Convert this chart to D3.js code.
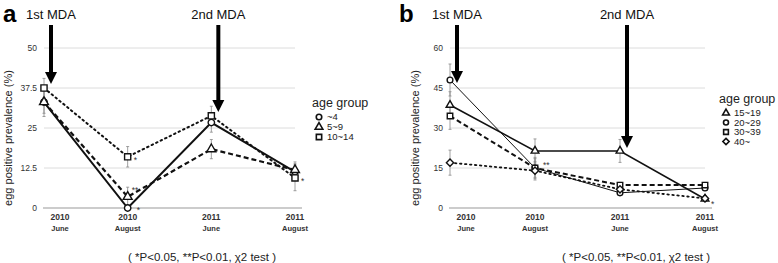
<!DOCTYPE html>
<html>
<head>
<meta charset="utf-8">
<script src="https://cdn.jsdelivr.net/npm/d3@7"></script>
<style>
  body { margin: 0; background: #fff; }
  text { font-family: "Liberation Sans", Arial, sans-serif; }
</style>
</head>
<body>
<div id="chart"></div>
<script>
// x categories
const tickYears = ["2010", "2010", "2011", "2011"];
const tickMonths = ["June", "August", "June", "August"];

// panel a
const groupsA = ["~4", "5~9", "10~14"];
const a_le4 = [33.1, 0, 26.7, 11.3];
const a_5to9 = [33.1, 3.5, 18.4, 11.9];
const a_10to14 = [37.5, 16, 28.8, 9.4];
const errA_le4 = [4.5, 0.5, 3, 2.5];
const errA_5to9 = [3.5, 3, 3, 2.5];
const errA_10to14 = [3, 3.2, 3, 4];
const yTicksA = [0, 12.5, 25, 37.5, 50];
const sigA = [
  { group: 2, at: 1, label: "*" },
  { group: 1, at: 1, label: "**" },
  { group: 0, at: 1, label: "*" },
  { group: 2, at: 3, label: "*" }
];

// panel b
const groupsB = ["15~19", "20~29", "30~39", "40~"];
const b_15to19 = [38.6, 21.4, 21.4, 3.4];
const b_20to29 = [48, 15, 5.7, 7.5];
const b_30to39 = [34.5, 15, 8.6, 8.6];
const b_40plus = [17, 14, 7, 3.6];
const errB_15to19 = [5, 4.5, 4.3, 1];
const errB_20to29 = [6, 4, 1, 1];
const errB_30to39 = [5, 3.5, 1, 1];
const errB_40plus = [4.7, 3.5, 1, 0.8];
const yTicksB = [0, 15, 30, 45, 60];
const sigB = [
  { group: 1, at: 1, label: "**" },
  { group: 0, at: 3, label: "*" }
];

const mdaLabels = ["1st MDA", "2nd MDA"];

const W = 778, H = 263;
const svg = d3.select("#chart").append("svg")
  .attr("width", W).attr("height", H);

const symDiamond = {
  draw(ctx, size) {
    const r = Math.sqrt(size) * 0.62;
    ctx.moveTo(0, -r); ctx.lineTo(r, 0); ctx.lineTo(0, r); ctx.lineTo(-r, 0); ctx.closePath();
  }
};

function drawPanel(cfg) {
  const g = svg.append("g");
  const x = d3.scalePoint().domain(d3.range(tickYears.length)).range(cfg.xRange);
  const y = d3.scaleLinear().domain(cfg.yDomain).range([208, 48]);

  // grid
  g.selectAll(".grid").data(cfg.yTicks.filter(d => d > 0)).enter().append("line")
    .attr("x1", cfg.xRange[0]).attr("x2", cfg.xRange[1])
    .attr("y1", d => y(d)).attr("y2", d => y(d))
    .attr("stroke", "#dcdcdc").attr("stroke-width", 1);
  g.append("line")
    .attr("x1", cfg.xRange[0] - 1).attr("x2", cfg.xRange[1] + 7)
    .attr("y1", y(0)).attr("y2", y(0))
    .attr("stroke", "#9a9a9a").attr("stroke-width", 1.2);

  // y tick labels
  g.selectAll(".yt").data(cfg.yTicks).enter().append("text")
    .attr("x", cfg.xRange[0] - 7).attr("y", d => y(d) + 3)
    .attr("text-anchor", "end").attr("font-size", 8.5).attr("fill", "#333")
    .text(d => d);

  // x tick labels
  const xl = g.selectAll(".xt").data(tickYears).enter().append("g")
    .attr("transform", (d, i) => `translate(${x(i) + (i === 0 ? 16 : 0)},0)`);
  xl.append("text").attr("y", 220).attr("text-anchor", "middle")
    .attr("font-size", 8.5).attr("font-weight", "bold").attr("fill", "#333").text(d => d);
  xl.append("text").attr("y", 231).attr("text-anchor", "middle")
    .attr("font-size", 7.5).attr("font-weight", "bold").attr("fill", "#333").text((d, i) => tickMonths[i]);

  // y axis title
  g.append("text")
    .attr("transform", `translate(${cfg.yTitleX},138) rotate(-90)`)
    .attr("text-anchor", "middle").attr("font-size", 11).attr("fill", "#222")
    .text("egg positive prevalence (%)");

  // panel letter
  g.append("text").attr("x", cfg.letterX).attr("y", 22)
    .attr("font-size", 24).attr("font-weight", "bold").text(cfg.letter);

  // series
  cfg.series.forEach(s => {
    const line = d3.line().x((d, i) => x(i)).y(d => y(d));
    g.append("path").datum(s.values)
      .attr("d", line).attr("fill", "none").attr("stroke", "#111")
      .attr("stroke-width", s.width).attr("stroke-dasharray", s.dash)
      .attr("stroke-linecap", s.dash === "1.5,3.5" ? "round" : "butt");
  });
  cfg.series.forEach(s => {
    s.values.forEach((v, i) => {
      const e = s.err[i];
      g.append("line").attr("x1", x(i)).attr("x2", x(i))
        .attr("y1", y(v - e)).attr("y2", y(v + e))
        .attr("stroke", "#888").attr("stroke-width", 0.8);
      [v - e, v + e].forEach(t => g.append("line")
        .attr("x1", x(i) - 1.5).attr("x2", x(i) + 1.5)
        .attr("y1", y(t)).attr("y2", y(t))
        .attr("stroke", "#888").attr("stroke-width", 0.8));
    });
  });
  cfg.series.forEach(s => {
    g.selectAll(null).data(s.values).enter().append("path")
      .attr("transform", (d, i) => `translate(${x(i)},${y(d)})`)
      .attr("d", d3.symbol().type(s.symbol).size(s.size))
      .attr("fill", "#fff").attr("stroke", "#111").attr("stroke-width", 1.4);
  });

  // significance marks
  cfg.sig.forEach(m => {
    const v = cfg.series[m.group].values[m.at];
    const off = cfg.sigOffset(m);
    g.append("text").attr("x", x(m.at) + off[0]).attr("y", y(v) + off[1])
      .attr("font-size", 8.5).attr("fill", "#333").text(m.label);
  });

  // MDA arrows
  cfg.arrows.forEach((a, i) => {
    const ax = x(a.at) + 7;
    g.append("text").attr("x", ax).attr("y", 19).attr("text-anchor", "middle")
      .attr("font-size", 13).attr("fill", "#111").text(mdaLabels[i]);
    g.append("line").attr("x1", ax).attr("x2", ax).attr("y1", 25).attr("y2", a.tip - 10)
      .attr("stroke", "#000").attr("stroke-width", 4);
    g.append("path")
      .attr("d", `M${ax - 6},${a.tip - 12}L${ax + 6},${a.tip - 12}L${ax},${a.tip}Z`)
      .attr("fill", "#000");
  });

  // legend
  const lg = g.append("g").attr("transform", `translate(${cfg.legend[0]},${cfg.legend[1]})`);
  lg.append("text").attr("x", 0).attr("y", 0).attr("font-size", 12.5).attr("fill", "#222").text("age group");
  cfg.legendOrder.forEach((k, i) => {
    const s = cfg.series[k];
    const row = lg.append("g").attr("transform", `translate(0,${13 + i * cfg.legendStep})`);
    row.append("path").attr("transform", "translate(7,-3)")
      .attr("d", d3.symbol().type(s.symbol).size(s.size * 0.75))
      .attr("fill", "#fff").attr("stroke", "#111").attr("stroke-width", 1.6);
    row.append("text").attr("x", 15).attr("y", 0).attr("font-size", 9.5).attr("fill", "#222").text(s.name);
  });

  // footnote
  g.append("text").attr("x", cfg.footX).attr("y", 261).attr("text-anchor", "middle")
    .attr("font-size", 11.5).attr("fill", "#222").text("( *P<0.05, **P<0.01,  \u03C72 test )");
}

drawPanel({
  letter: "a", letterX: 3,
  xRange: [44, 295], yDomain: [0, 50], yTicks: yTicksA, yTitleX: 12,
  series: [
    { name: groupsA[0], values: a_le4, err: errA_le4, symbol: d3.symbolCircle, size: 32, width: 2, dash: null },
    { name: groupsA[1], values: a_5to9, err: errA_5to9, symbol: d3.symbolTriangle, size: 34, width: 2.2, dash: "5,3" },
    { name: groupsA[2], values: a_10to14, err: errA_10to14, symbol: d3.symbolSquare, size: 38, width: 2, dash: "1.5,3.5" }
  ],
  legendOrder: [0, 1, 2],
  legendStep: 10,
  sig: sigA,
  sigOffset: m => m.group === 1 ? [4, -4] : (m.group === 0 ? [9, 5] : [6, 6]),
  arrows: [{ at: 0, tip: 84 }, { at: 2, tip: 112 }],
  legend: [312, 107],
  footX: 202
});

drawPanel({
  letter: "b", letterX: 399,
  xRange: [450, 705], yDomain: [0, 60], yTicks: yTicksB, yTitleX: 419,
  series: [
    { name: groupsB[0], values: b_15to19, err: errB_15to19, symbol: d3.symbolTriangle, size: 26, width: 1.6, dash: null },
    { name: groupsB[1], values: b_20to29, err: errB_20to29, symbol: d3.symbolCircle, size: 26, width: 1, dash: null },
    { name: groupsB[2], values: b_30to39, err: errB_30to39, symbol: d3.symbolSquare, size: 30, width: 2, dash: "5,3" },
    { name: groupsB[3], values: b_40plus, err: errB_40plus, symbol: symDiamond, size: 34, width: 1.8, dash: "1.5,3.5" }
  ],
  legendOrder: [0, 1, 2, 3],
  legendStep: 9.5,
  sig: sigB,
  sigOffset: m => m.at === 1 ? [8, 0] : [6, 8],
  arrows: [{ at: 0, tip: 83 }, { at: 2, tip: 148 }],
  legend: [719, 103],
  footX: 636
});
</script>
</body>
</html>
